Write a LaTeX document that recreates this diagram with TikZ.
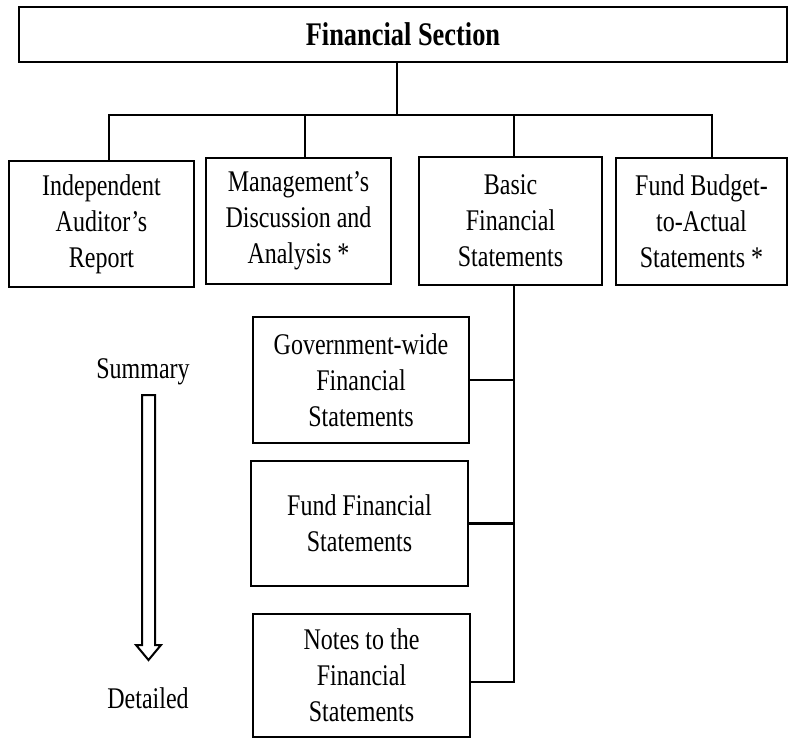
\documentclass[tikz,border=0pt]{standalone}
\usepackage{fontspec}
\setmainfont{Liberation Serif}[FakeStretch=0.8]
\usepackage{tikz}
\usetikzlibrary{positioning}

\begin{document}
\begin{tikzpicture}[x=1pt, y=-1pt,
                    font=\fontsize{30}{36}\selectfont,
                    box/.style={draw, line width=2.2pt, align=center, inner sep=0pt},
                    link/.style={line width=2.5pt}]
    %\draw[help lines] (0,0) grid (788,740);
   \useasboundingbox (0,0) rectangle (788,740);

   \node[box, minimum width=768pt, minimum height=55pt, font=\fontsize{33}{36}\selectfont\bfseries] (fin_section) at (403,34.5) {Financial Section};

   \node[box, minimum width=185pt, minimum height=126pt] (auditor) at (101.5,224) {Independent\\Auditor's\\Report};
   \node[box, minimum width=185pt, minimum height=126pt] (mda) at (298.5,221) {Management's\\Discussion and\\Analysis *};
   \node[box, minimum width=183pt, minimum height=128pt] (basic) at (510.5,221) {Basic\\Financial\\Statements};
   \node[box, minimum width=171pt, minimum height=127pt] (budget) at (701.5,221.5) {Fund Budget-\\to-Actual\\Statements *};

   \node[box, minimum width=216pt, minimum height=126pt] (govwide) at (361,380) {Government-wide\\Financial\\Statements};
   \node[box, minimum width=217pt, minimum height=125pt] (fund) at (359.5,523.5) {Fund Financial\\Statements};
   \node[box, minimum width=217pt, minimum height=123pt] (notes) at (361.5,675.5) {Notes to the\\Financial\\Statements};

   \node (summary) at (143,372) {Summary};
   \node (detailed) at (148,698) {Detailed};

   % tree lines
   \coordinate (bus) at (397,115);
   \coordinate (trunk) at (514,682);
   \draw[link] (fin_section.south -| bus) -- (bus);
   \draw[link] ([xshift=7.5pt]auditor.north) |- (bus) -| ([xshift=10.5pt]budget.north);
   \draw[link] ([xshift=6.5pt]mda.north) -- ([xshift=6.5pt]mda.north |- bus);
   \draw[link] (basic.north -| trunk) -- (trunk |- bus);
   \draw[link] (basic.south -| trunk) -- (trunk) -- (notes.east |- trunk);
   \draw[link] (govwide.east) -- (govwide.east -| trunk);
   \draw[link] (fund.east) -- (fund.east -| trunk);

   % summary -> detailed arrow
   \draw[line width=2pt, fill=white]
     (142,395) -- (155,395) -- (155,645) -- (161,645) -- (148.5,660)
     -- (136,645) -- (142,645) -- cycle;
\end{tikzpicture}
\end{document}
